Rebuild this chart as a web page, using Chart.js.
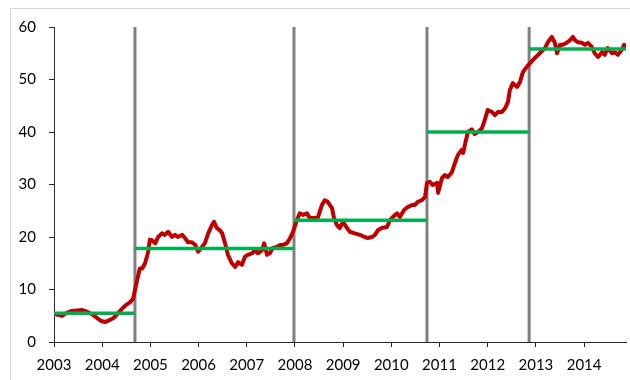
<!DOCTYPE html>
<html>
<head>
<meta charset="utf-8">
<script src="https://cdn.jsdelivr.net/npm/chart.js@4"></script>
<style>
    html, body { margin: 0; padding: 0; background: #ffffff; overflow: hidden; }
    #frame {
        position: absolute; left: 10px; top: 8px;
        width: 660px; height: 420px;
        border: 1px solid #d9d9d9;
    }
    #priceChart { position: absolute; left: 0; top: 0; }
</style>
</head>
<body>
<div id="frame"></div>
<canvas id="priceChart" width="630" height="380"></canvas>

<script>

// ---------------------------
// Series (decimal year, price)
// ---------------------------

const years = [
    2003.00, 2003.08, 2003.17, 2003.27, 2003.37, 2003.48, 2003.58, 2003.68, 2003.79, 2003.89,
    2003.98, 2004.06, 2004.16, 2004.24, 2004.33, 2004.41, 2004.49, 2004.58, 2004.64, 2004.68,
    2004.74, 2004.78, 2004.83, 2004.89, 2004.95, 2004.99, 2005.03, 2005.10, 2005.16, 2005.24,
    2005.30, 2005.37, 2005.45, 2005.51, 2005.57, 2005.66, 2005.72, 2005.78, 2005.86, 2005.93,
    2005.99, 2006.07, 2006.13, 2006.20, 2006.28, 2006.32, 2006.38, 2006.44, 2006.49, 2006.55,
    2006.61, 2006.69, 2006.76, 2006.82, 2006.90, 2006.96, 2007.02, 2007.11, 2007.17, 2007.23,
    2007.32, 2007.36, 2007.42, 2007.48, 2007.54, 2007.63, 2007.69, 2007.75, 2007.83, 2007.90,
    2007.96, 2008.04, 2008.10, 2008.17, 2008.25, 2008.31, 2008.41, 2008.48, 2008.56, 2008.62,
    2008.68, 2008.77, 2008.81, 2008.87, 2008.93, 2009.00, 2009.08, 2009.14, 2009.24, 2009.35,
    2009.45, 2009.51, 2009.60, 2009.66, 2009.72, 2009.80, 2009.91, 2009.97, 2010.03, 2010.12,
    2010.18, 2010.26, 2010.34, 2010.43, 2010.49, 2010.55, 2010.63, 2010.70, 2010.74, 2010.80,
    2010.86, 2010.95, 2010.97, 2011.05, 2011.11, 2011.17, 2011.26, 2011.32, 2011.38, 2011.46,
    2011.49, 2011.55, 2011.59, 2011.67, 2011.73, 2011.80, 2011.88, 2011.94, 2012.00, 2012.09,
    2012.15, 2012.21, 2012.29, 2012.36, 2012.42, 2012.46, 2012.52, 2012.61, 2012.67, 2012.73,
    2012.81, 2012.88, 2012.98, 2013.08, 2013.19, 2013.25, 2013.33, 2013.39, 2013.44, 2013.50,
    2013.56, 2013.64, 2013.71, 2013.77, 2013.81, 2013.87, 2013.95, 2014.02, 2014.08, 2014.16,
    2014.22, 2014.29, 2014.37, 2014.43, 2014.49, 2014.58, 2014.64, 2014.70, 2014.78, 2014.83,
    2014.86
];

const prices = [
    5.4, 5.2, 5.0, 5.6, 5.9, 6.0, 6.1, 5.8, 5.3, 4.6,
    4.0, 3.8, 4.2, 4.6, 5.5, 6.3, 7.0, 7.6, 8.2, 9.9,
    12.4, 14.0, 14.0, 15.0, 17.0, 19.5, 19.4, 18.8, 20.0, 20.7,
    20.4, 21.0, 20.0, 20.4, 20.0, 20.4, 19.8, 19.0, 19.0, 18.5,
    17.2, 18.1, 18.8, 20.7, 22.3, 22.9, 21.7, 21.3, 20.7, 18.8,
    16.6, 15.0, 14.3, 15.2, 14.7, 16.2, 16.6, 16.9, 17.5, 16.9,
    17.5, 18.8, 16.6, 16.9, 17.9, 18.1, 18.5, 18.5, 18.8, 19.8,
    21.0, 23.2, 24.5, 24.2, 24.5, 23.6, 23.6, 23.8, 26.1, 27.0,
    26.7, 25.5, 23.6, 22.3, 21.7, 22.9, 21.7, 21.0, 20.7, 20.4,
    20.0, 19.8, 20.0, 20.4, 21.3, 21.7, 21.9, 23.2, 23.8, 24.5,
    23.8, 25.1, 25.7, 26.1, 26.1, 26.7, 27.0, 27.6, 30.3, 30.5,
    29.9, 30.3, 28.4, 31.2, 31.8, 31.4, 32.4, 34.1, 35.6, 36.6,
    36.0, 38.5, 40.0, 40.5, 39.6, 40.0, 40.7, 42.3, 44.2, 43.8,
    43.2, 43.8, 43.8, 44.5, 45.7, 48.0, 49.3, 48.6, 49.5, 51.4,
    52.4, 53.1, 54.1, 55.0, 56.0, 57.1, 58.1, 57.1, 55.0, 56.6,
    56.6, 57.0, 57.5, 58.1, 57.5, 57.1, 57.0, 56.6, 57.0, 56.2,
    55.0, 54.3, 55.2, 54.7, 56.0, 55.0, 55.2, 54.7, 55.6, 56.6,
    56.0
];

// regime boundaries and the average level inside each regime
const breaks = [2003.00, 2004.68, 2007.98, 2010.74, 2012.86, 2014.87];
const levels = [5.5, 17.8, 23.2, 40.0, 55.8];

const yearTicks = [2003, 2004, 2005, 2006, 2007, 2008, 2009, 2010, 2011, 2012, 2013, 2014];
const valueTicks = [0, 10, 20, 30, 40, 50, 60];


// ---------------------------
// Datasets
// ---------------------------

const datasets = [];

// average level per regime
for (let i = 0; i < levels.length; i++) {

    datasets.push({
        data: [
            { x: breaks[i], y: levels[i] },
            { x: breaks[i + 1], y: levels[i] }
        ],
        borderColor: "#00B050",
        borderWidth: 3.5,
        showLine: true,
        pointRadius: 0,
        order: 0
    });

}

// price series
datasets.push({
    data: years.map((x, i) => ({ x: x, y: prices[i] })),
    borderColor: "#C00000",
    borderWidth: 4,
    borderJoinStyle: "round",
    showLine: true,
    pointRadius: 0,
    tension: 0,
    order: 1
});

// regime break markers
for (let i = 1; i < breaks.length - 1; i++) {

    datasets.push({
        data: [
            { x: breaks[i], y: valueTicks[0] },
            { x: breaks[i], y: valueTicks[valueTicks.length - 1] }
        ],
        borderColor: "#808080",
        borderWidth: 3,
        showLine: true,
        pointRadius: 0,
        order: 2
    });

}


// ---------------------------
// Chart
// ---------------------------

const axisColor = "#262626";
const tickFont = { family: "Lato", size: 15 };

new Chart(document.getElementById("priceChart"), {

    type: "scatter",

    data: { datasets: datasets },

    options: {

        responsive: false,
        animation: false,

        layout: {
            padding: { top: 27, right: 4, left: 0, bottom: 0 }
        },

        plugins: {
            legend: { display: false },
            tooltip: { enabled: false }
        },

        scales: {

            x: {
                type: "linear",
                min: breaks[0],
                max: breaks[breaks.length - 1],
                afterBuildTicks: function(scale) {
                    scale.ticks = yearTicks.map(v => ({ value: v }));
                },
                afterFit: function(scale) {
                    scale.height = 38;
                },
                border: { color: axisColor, width: 1 },
                grid: {
                    drawOnChartArea: false,
                    drawTicks: true,
                    tickLength: 5,
                    color: axisColor
                },
                ticks: {
                    color: "#000000",
                    font: tickFont,
                    padding: 9,
                    maxRotation: 0,
                    autoSkip: false,
                    callback: function(value) {
                        return String(value);
                    }
                }
            },

            y: {
                min: valueTicks[0],
                max: valueTicks[valueTicks.length - 1],
                afterBuildTicks: function(scale) {
                    scale.ticks = valueTicks.map(v => ({ value: v }));
                },
                afterFit: function(scale) {
                    scale.width = 54;
                },
                border: { color: axisColor, width: 1 },
                grid: {
                    drawOnChartArea: false,
                    drawTicks: true,
                    tickLength: 5,
                    color: axisColor
                },
                ticks: {
                    color: "#000000",
                    font: tickFont,
                    padding: 13
                }
            }

        }

    }

});

</script>
</body>
</html>
